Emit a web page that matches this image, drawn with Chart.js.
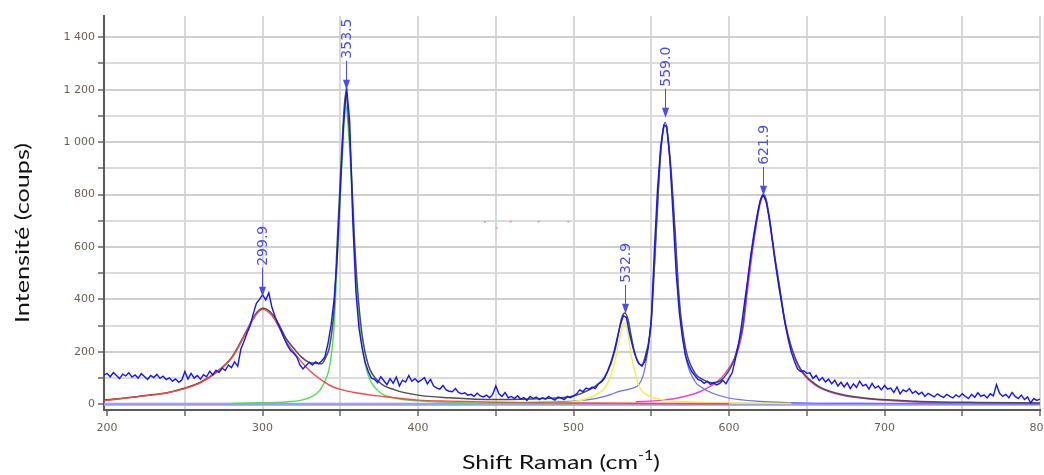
<!DOCTYPE html>
<html>
<head>
<meta charset="utf-8">
<script src="https://cdn.jsdelivr.net/npm/chart.js@4.4.0/dist/chart.umd.min.js"></script>
<style>
  html, body { margin: 0; padding: 0; background: #fff; }
  #wrap { width: 1044px; height: 475px; position: relative; }
</style>
</head>
<body>
<div id="wrap"><canvas id="raman"></canvas></div>
<script>
// Spectre brut (shift, coups)
const rawSpectrum = [
  [198,112],[200,118],[202,105],[204,121],[206,110],[208,98],[210,115],[212,108],[214,120],[216,104],
  [218,112],[220,100],[222,117],[224,106],[226,95],[228,110],[230,102],[232,114],[234,99],[236,107],
  [238,94],[240,101],[242,88],[244,97],[246,84],[248,92],[250,125],[252,96],[254,118],[256,100],
  [258,110],[260,96],[262,113],[264,105],[266,126],[268,112],[270,130],[272,121],[274,138],[276,129],
  [278,150],[280,140],[282,162],[284,145],[286,210],[288,240],[290,272],[292,300],[294,345],[296,385],
  [298,400],[300,418],[302,398],[304,425],[306,370],[308,335],[310,305],[312,280],[314,250],[316,225],
  [318,205],[320,195],[322,180],[324,150],[326,135],[328,148],[330,160],[332,150],[334,162],[336,155],
  [338,165],[340,180],[342,230],[344,300],[346,400],[348,560],[350,820],[352,1060],[354,1210],[356,1080],
  [358,700],[360,430],[362,290],[364,215],[366,160],[368,125],[370,100],[372,95],[374,82],[376,105],
  [378,90],[380,75],[382,98],[384,80],[386,104],[388,70],[390,92],[392,85],[394,110],[396,88],
  [398,98],[400,85],[402,92],[404,102],[406,78],[408,95],[410,70],[412,62],[414,58],[416,72],
  [418,55],[420,50],[422,48],[424,60],[426,45],[428,40],[430,44],[432,35],[434,38],[436,30],
  [438,42],[440,32],[442,28],[444,35],[446,25],[448,38],[450,70],[452,40],[454,30],[456,45],
  [458,25],[460,30],[462,22],[464,33],[466,20],[468,26],[470,15],[472,30],[474,22],[476,28],
  [478,18],[480,25],[482,20],[484,30],[486,22],[488,16],[490,28],[492,24],[494,18],[496,30],
  [498,25],[500,32],[502,40],[504,55],[506,48],[508,62],[510,58],[512,66],[514,60],[516,78],
  [518,85],[520,100],[522,128],[524,160],[526,200],[528,250],[530,300],[532,338],[534,330],[536,270],
  [538,220],[540,180],[542,155],[544,145],[546,165],[548,215],[550,320],[552,590],[554,820],[556,980],
  [558,1065],[560,1060],[562,930],[564,720],[566,500],[568,350],[570,255],[572,185],[574,150],[576,125],
  [578,110],[580,95],[582,90],[584,80],[586,88],[588,76],[590,82],[592,74],[594,80],[596,92],
  [598,78],[600,100],[602,120],[604,170],[606,225],[608,300],[610,390],[612,475],[614,570],[616,650],
  [618,720],[620,775],[622,800],[624,770],[626,705],[628,620],[630,530],[632,450],[634,380],[636,310],
  [638,250],[640,200],[642,165],[644,135],[646,125],[648,128],[650,118],[652,120],[654,98],[656,110],
  [658,90],[660,102],[662,85],[664,96],[666,78],[668,92],[670,70],[672,84],[674,66],[676,82],
  [678,60],[680,78],[682,64],[684,88],[686,70],[688,76],[690,58],[692,80],[694,62],[696,70],
  [698,55],[700,72],[702,58],[704,62],[706,45],[708,66],[710,40],[712,55],[714,48],[716,60],
  [718,42],[720,50],[722,38],[724,46],[726,30],[728,42],[730,35],[732,28],[734,40],[736,32],
  [738,26],[740,38],[742,30],[744,24],[746,36],[748,28],[750,40],[752,30],[754,22],[756,38],
  [758,26],[760,44],[762,30],[764,36],[766,24],[768,40],[770,32],[772,75],[774,42],[776,30],
  [778,38],[780,25],[782,45],[784,30],[786,22],[788,35],[790,18],[792,28],[794,5],[796,22],
  [798,15],[800,20]
];

// Ajustement total
const fitTotal = [
  [198,16],[210,23],[220,30],[230,37],[240,46],[250,62],[260,84],[270,122],[280,178],[290,284],
  [295,340],[300,366],[305,352],[310,310],[315,252],[320,214],[325,180],[330,160],[335,156],[338,155],
  [341,184],[343,218],[346,366],[348,617],[350,860],[351.5,1035],[353.5,1190],[355,1110],[357,905],[359,640],
  [361,445],[364,265],[368,150],[375,85],[385,55],[400,35],[420,25],[450,18],[480,22],[500,32],
  [511,58],[516,78],[520,105],[524,155],[527,215],[529,275],[531,330],[533,348],[535,325],[537,262],
  [539,205],[541.5,160],[544,150],[546,180],[549,262],[550,320],[552,530],[553,650],[556,960],[559,1075],
  [562,945],[565,690],[568,400],[572,215],[578,120],[583,95],[589,82],[594,88],[599,120],[603,165],
  [606,228],[609,305],[612,470],[615,600],[618,710],[620,775],[622,800],[624,778],[626,710],[629,580],
  [632,468],[636,316],[640,220],[645,145],[650,104],[655,79],[660,61],[672,38],[690,22],[720,12],
  [760,7],[800,5]
];

// Composantes
const peakRed = [
  [198,14],[210,22],[220,29],[230,36],[240,45],[250,60],[260,82],[270,120],[280,175],[290,280],
  [295,335],[300,362],[305,345],[310,300],[315,240],[320,200],[325,162],[330,130],[335,105],[340,84],
  [345,67],[350,57],[360,44],[370,35],[380,28],[400,16],[420,12],[450,8],[500,5],[550,3],[600,2]
];
const peakGreen = [
  [280,3],[300,6],[315,9],[325,16],[332,30],[337,55],[341,100],[343,143],[346,297],[348,551],
  [350,800],[351.5,975],[353.5,1140],[355,1060],[357,860],[359,600],[361,400],[364,220],[368,110],[375,48],
  [385,24],[400,13],[420,7],[450,4],[500,2]
];
const peakYellow = [
  [480,5],[500,10],[511,27],[516,42],[520,62],[524,110],[527,175],[529,235],[531,285],[533,310],
  [535,270],[537,190],[539,135],[541.5,80],[544,50],[546,40],[549,30],[552,24],[560,14],[580,8],
  [600,5],[640,3]
];
const peakBlue = [
  [450,4],[480,8],[500,12],[510,18],[520,30],[524,38],[530,50],[537,60],[542,75],[546,140],
  [550,330],[553,630],[556,950],[559,1062],[562,930],[565,665],[568,380],[572,185],[578,88],[583,62],
  [589,43],[599,25],[620,11],[650,5],[700,3],[800,1]
];
const peakMagenta = [
  [540,10],[556,15],[567,24],[580,45],[589,72],[595,100],[599,130],[603,170],[606,210],[609,290],
  [612,440],[615,580],[618,700],[620,765],[622,795],[624,770],[626,700],[629,570],[632,460],[636,310],
  [640,215],[645,140],[650,100],[655,75],[660,58],[672,35],[690,20],[720,9],[760,5],[800,3]
];
const baseLine = [[198,0],[800,0]];
const strayDots = [[443,696],[450.5,673],[459.5,697],[477.5,697],[496.7,697]];

// Pics annotés
const peakPos = [299.9, 353.5, 532.9, 559.0, 621.9];
const peakTip = [410, 1200, 345, 1093, 795];
const peakLabels = ['299.9', '353.5', '532.9', '559.0', '621.9'];

// Graduations
const xTickValues = [200, 250, 300, 350, 400, 450, 500, 550, 600, 650, 700, 750, 800];
const xTickLabels = ['200', '', '300', '', '400', '', '500', '', '600', '', '700', '', '800'];
const yTickValues = [0, 100, 200, 300, 400, 500, 600, 700, 800, 900, 1000, 1100, 1200, 1300, 1400];
const yTickLabels = ['0', '', '200', '', '400', '', '600', '', '800', '', '1 000', '', '1 200', '', '1 400'];

const toPts = arr => arr.map(p => ({ x: p[0], y: p[1] }));

function line(label, pts, color, width, extra) {
  return Object.assign({
    label: label,
    data: toPts(pts),
    borderColor: color,
    backgroundColor: color,
    borderWidth: width,
    pointRadius: 0,
    fill: false,
    cubicInterpolationMode: 'monotone'
  }, extra || {});
}

const peakMarks = {
  id: 'peakMarks',
  afterDatasetsDraw(chart) {
    const { ctx, scales: { x, y } } = chart;
    ctx.save();
    ctx.strokeStyle = '#4c4cf2';
    ctx.fillStyle = '#4c4cf2';
    ctx.lineWidth = 1;
    ctx.font = '14px "DejaVu Sans"';
    peakPos.forEach((pos, i) => {
      const px = Math.round(x.getPixelForValue(pos)) + 0.5;
      const tip = y.getPixelForValue(peakTip[i]);
      ctx.beginPath();
      ctx.moveTo(px, tip - 29);
      ctx.lineTo(px, tip - 6);
      ctx.stroke();
      ctx.beginPath();
      ctx.moveTo(px, tip);
      ctx.lineTo(px - 3.5, tip - 10);
      ctx.lineTo(px + 3.5, tip - 10);
      ctx.closePath();
      ctx.fill();
      ctx.save();
      ctx.translate(px, tip - 31);
      ctx.rotate(-Math.PI / 2);
      ctx.textAlign = 'left';
      ctx.textBaseline = 'middle';
      ctx.fillText(peakLabels[i], 0, 1);
      ctx.restore();
    });
    ctx.restore();
  }
};

// titres d'axes, étirés à la largeur de l'original
const axisTitles = {
  id: 'axisTitles',
  afterDraw(chart) {
    const ctx = chart.ctx;
    ctx.save();
    ctx.fillStyle = '#111';
    ctx.textBaseline = 'alphabetic';

    ctx.font = '20px Lato';
    const yTitle = 'Intensité (coups)';
    const wy = ctx.measureText(yTitle).width;
    ctx.save();
    ctx.translate(29, 233);
    ctx.rotate(-Math.PI / 2);
    ctx.scale(180 / wy, 1);
    ctx.textAlign = 'center';
    ctx.fillText(yTitle, 0, 0);
    ctx.restore();

    const a = 'Shift Raman (cm', sup = '-1', b = ')';
    ctx.font = '20px Lato';
    const wa = ctx.measureText(a).width;
    const wb = ctx.measureText(b).width;
    ctx.font = '13px Lato';
    const ws = ctx.measureText(sup).width;
    const total = wa + ws + wb;
    const k = 198 / total;
    ctx.save();
    ctx.translate(561 - 99, 469);
    ctx.scale(k, 1);
    ctx.textAlign = 'left';
    ctx.font = '20px Lato';
    ctx.fillText(a, 0, 0);
    ctx.font = '13px Lato';
    ctx.fillText(sup, wa, -9);
    ctx.font = '20px Lato';
    ctx.fillText(b, wa + ws, 0);
    ctx.restore();
    ctx.restore();
  }
};

const ctx = document.getElementById('raman').getContext('2d');
new Chart(ctx, {
  type: 'line',
  data: {
    datasets: [
      line('Spectre', rawSpectrum, '#1414ff', 1.4, { tension: 0, cubicInterpolationMode: 'default' }),
      line('Pic 299.9', peakRed, '#f04a4a', 1.4),
      line('Ajustement', fitTotal, '#4d4d4d', 1.5),
      line('Pic 353.5', peakGreen, '#4ee04e', 1.4),
      line('Pic 532.9', peakYellow, '#eeee50', 1.4),
      line('Pic 559.0', peakBlue, '#6a6aff', 1.2),
      line('Pic 621.9', peakMagenta, '#e044d8', 1.4),
      line('Ligne de base', baseLine, '#9c9cf2', 3, { tension: 0 }),
      line('Points', strayDots, '#cfa8e0', 0, { showLine: false, pointRadius: 1.5, pointStyle: 'rect' })
    ]
  },
  options: {
    responsive: true,
    maintainAspectRatio: false,
    animation: false,
    events: [],
    layout: { padding: { top: 16, right: 1, left: 0, bottom: 0 } },
    plugins: {
      legend: { display: false },
      tooltip: { enabled: false }
    },
    scales: {
      x: {
        type: 'linear',
        min: 198,
        max: 800,
        afterBuildTicks(s) { s.ticks = xTickValues.map(v => ({ value: v })); },
        afterFit(s) { s.height = 65; s.paddingLeft = 0; s.paddingRight = 0; },
        border: { color: '#5a5a5a', width: 2 },
        grid: {
          color: c => (c.tick && c.tick.value === 200) ? 'rgba(0,0,0,0)' : '#d8d8d8',
          lineWidth: 2,
          tickColor: '#666666',
          tickLength: 6,
          tickWidth: 1.5
        },
        ticks: {
          autoSkip: false,
          maxRotation: 0,
          padding: 6,
          color: '#6a5f55',
          font: { family: 'DejaVu Sans', size: 11 },
          callback: (v, i) => xTickLabels[i] || ''
        }
      },
      y: {
        type: 'linear',
        min: -21.7,
        max: 1481,
        afterBuildTicks(s) { s.ticks = yTickValues.map(v => ({ value: v })); },
        afterFit(s) { s.width = 104; s.paddingTop = 0; s.paddingBottom = 0; },
        border: { color: '#5a5a5a', width: 2 },
        grid: {
          color: c => (c.tick && c.tick.value % 200 !== 0) ? '#dbdbdb' : '#cfcfcf',
          lineWidth: 2,
          tickColor: '#666666',
          tickLength: 6,
          tickWidth: 1.5
        },
        ticks: {
          autoSkip: false,
          padding: 3,
          color: '#6a5f55',
          font: { family: 'DejaVu Sans', size: 11 },
          callback: (v, i) => yTickLabels[i] || ''
        }
      }
    }
  },
  plugins: [peakMarks, axisTitles]
});
</script>
</body>
</html>
